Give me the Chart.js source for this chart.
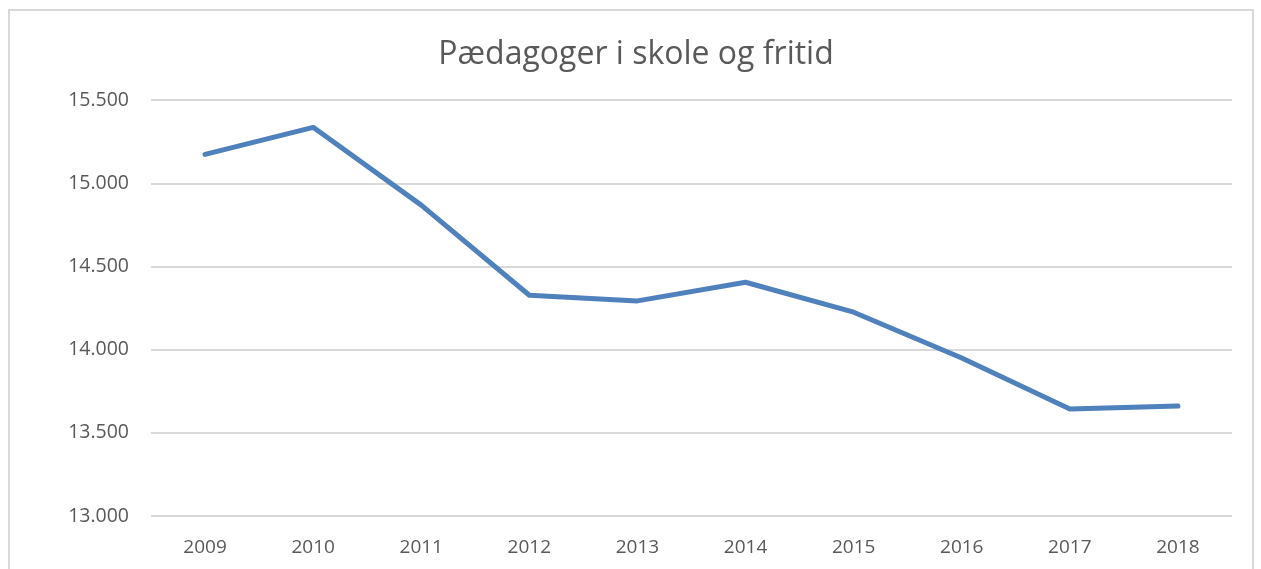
<!DOCTYPE html>
<html>
<head>
<meta charset="utf-8">
<script src="https://cdn.jsdelivr.net/npm/chart.js@4/dist/chart.umd.min.js"></script>
<style>
  html, body { margin: 0; padding: 0; background: #fff; overflow: hidden; }
  #frame {
    position: absolute; left: 8px; top: 9px; width: 1246px; height: 600px;
    border: 2px solid #d9d9d9; box-sizing: border-box;
  }
  #wrap { position: absolute; left: 0; top: 0; width: 1261px; height: 569px; }
</style>
</head>
<body>
<div id="frame"></div>
<div id="wrap"><canvas id="chart" width="1261" height="569"></canvas></div>
<script>
// Data
const years = ['2009', '2010', '2011', '2012', '2013', '2014', '2015', '2016', '2017', '2018'];
const paedagoger = [15175, 15338, 14870, 14328, 14294, 14406, 14226, 13950, 13643, 13661];
const yTicks = [13000, 13500, 14000, 14500, 15000, 15500];

const textColor = '#595959';
const fontFamily = '"Open Sans", "Liberation Sans", sans-serif';

const ctx = document.getElementById('chart').getContext('2d');

new Chart(ctx, {
    type: 'line',
    data: {
        labels: years,
        datasets: [{
            label: 'Pædagoger i skole og fritid',
            data: paedagoger,
            borderColor: '#4f81bd',
            borderWidth: 5,
            pointRadius: 0,
            tension: 0,
            borderCapStyle: 'round',
            borderJoinStyle: 'round',
            fill: false
        }]
    },
    options: {
        responsive: false,
        animation: false,
        layout: { padding: { left: 40, right: 29, top: 0, bottom: 0 } },
        plugins: {
            legend: { display: false },
            tooltip: { enabled: false },
            title: {
                display: true,
                text: 'Pædagoger i skole og fritid',
                color: textColor,
                font: { family: fontFamily, size: 32, weight: 'normal' },
                padding: { top: 36, bottom: 26 }
            }
        },
        scales: {
            x: {
                offset: true,
                grid: { display: false, drawTicks: false },
                border: { display: false },
                ticks: {
                    color: textColor,
                    font: { family: fontFamily, size: 19 },
                    padding: 20,
                    maxRotation: 0
                },
                afterFit: function(scale) { scale.height = 53; }
            },
            y: {
                min: yTicks[0],
                max: yTicks[yTicks.length - 1],
                afterBuildTicks: function(scale) {
                    scale.ticks = yTicks.map(v => ({ value: v }));
                },
                grid: { color: '#d9d9d9', lineWidth: 2, drawTicks: false },
                border: { display: false },
                ticks: {
                    color: textColor,
                    font: { family: fontFamily, size: 19.5 },
                    padding: 22,
                    callback: function(value) {
                        return value.toLocaleString('da-DK', { minimumFractionDigits: 0 }).replace(/,/g, '.');
                    }
                },
                afterFit: function(scale) { scale.width = 111; }
            }
        }
    }
});
</script>
</body>
</html>
